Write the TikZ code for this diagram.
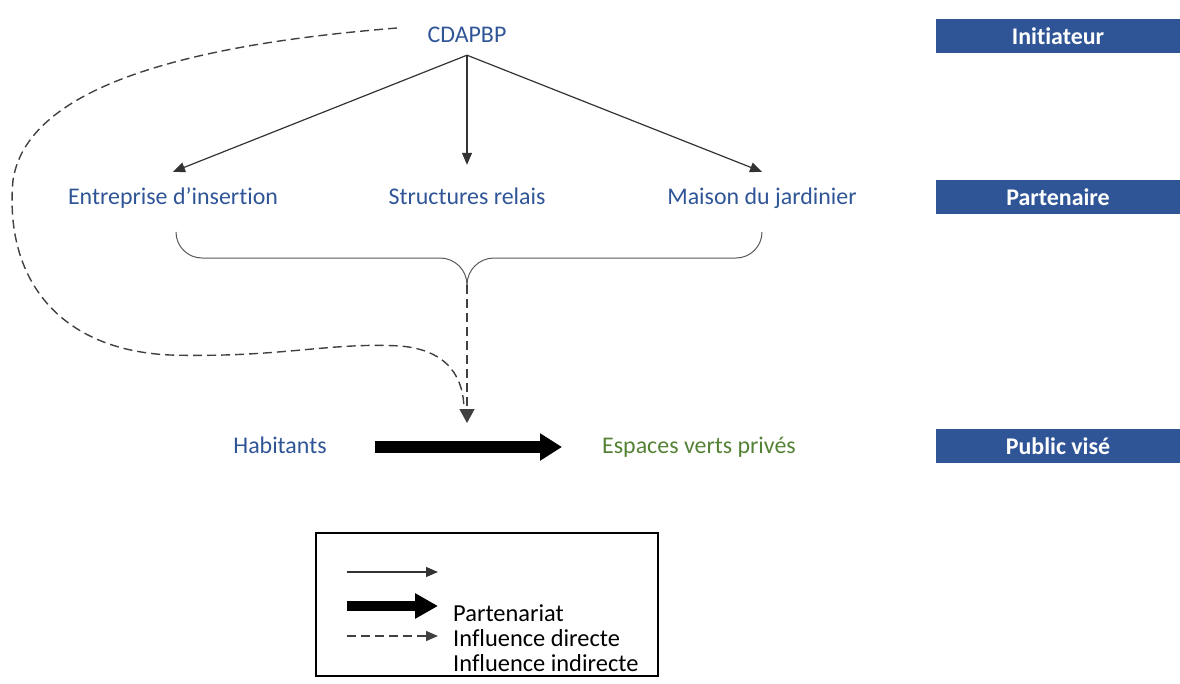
\documentclass[tikz,border=0pt]{standalone}
\usepackage{fontspec}
\setmainfont{Carlito}[RawFeature={-liga;-clig;-calt;-dlig}]
\usetikzlibrary{arrows.meta}
\definecolor{bleu}{HTML}{2F5597}
\definecolor{vert}{HTML}{548235}
\definecolor{bandeau}{HTML}{2F5597}
\tikzset{
    acteur/.style={text=bleu, font=\fontsize{24}{28}\selectfont,
        text height=17bp, text depth=5bp, inner sep=3bp},
    niveau/.style={fill=bandeau, text=white, font=\fontsize{24}{28}\selectfont\bfseries,
        minimum width=244bp, minimum height=34bp, inner sep=0pt},
    fleche/.style={draw=black!80, line width=1.2bp, -{Triangle[length=12bp,width=10bp]}},
    pointille/.style={draw=black!75, line width=1.4bp, dash pattern=on 9bp off 5bp},
    grosse/.style={draw=black, line width=12bp, -{Triangle[length=22bp,width=26bp]}},
    accolade/.style={draw=black!65, line width=1bp}
}
\begin{document}
\begin{tikzpicture}[x=1bp, y=-1bp]
    \useasboundingbox (0, 0) rectangle (1180, 684);
    % acteurs
    \node[acteur] (cd) at (467, 37) {CDAPBP};
    \node[acteur] (ent) at (173, 199) {Entreprise d’insertion};
    \node[acteur] (str) at (467, 199) {Structures relais};
    \node[acteur] (mai) at (762, 199) {Maison du jardinier};
    \node[acteur] (hab) at (280, 447) {Habitants};
    \node[acteur, text=vert] (esp) at (699, 447) {Espaces verts privés};
    % bandeaux
    \node[niveau] (ini) at (1058, 36.5) {Initiateur};
    \node[niveau] (par) at (1058, 197) {Partenaire};
    \node[niveau] (pub) at (1058, 446) {Public visé};
    % fleches
    \draw[fleche] ([yshift=-4bp]cd.south) -- ([yshift=13bp]ent.north);
    \draw[fleche] ([yshift=-4bp]cd.south) -- ([yshift=20bp]str.north);
    \draw[fleche] ([yshift=-4bp]cd.south) -- ([yshift=13bp]mai.north);
    % accolade
    \coordinate (pointe) at (467, 285);
    \draw[accolade] (176, 232) to[out=-90, in=180] (202, 258) -- (440, 258)
        to[out=0, in=90] (pointe);
    \draw[accolade] (762, 232) to[out=-90, in=0] (736, 258) -- (494, 258)
        to[out=180, in=90] (pointe);
    \coordinate (cible) at (467, 423);
    \draw[pointille, -{Triangle[length=14bp,width=15bp]}] (pointe) -- (cible);
    \coordinate (depart) at (397, 28);
    \draw[pointille] (depart) .. controls (250, 40) and (30, 70) .. (13, 180)
        .. controls (4, 280) and (60, 350) .. (170, 355)
        .. controls (280, 358) and (330, 342) .. (400, 346)
        .. controls (450, 350) and (464, 380) .. (464, 410);
    \draw[grosse] ([xshift=45bp]hab.east) -- ([xshift=-37bp]esp.west);
    % legende
    \node[draw, line width=1.5bp, minimum width=342bp, minimum height=143bp] (leg) at (487, 604.5) {};
    \coordinate (a1) at (347, 572);
    \coordinate (b1) at (438, 572);
    \coordinate (a2) at (347, 606);
    \coordinate (b2) at (438, 606);
    \coordinate (a3) at (347, 636);
    \coordinate (b3) at (438, 636);
    \draw[fleche] (a1) -- (b1);
    \draw[grosse, line width=10bp, -{Triangle[length=23bp,width=24bp]}] (a2) -- (b2);
    \draw[pointille, -{Triangle[length=12bp,width=10bp]}] (a3) -- (b3);
    \node[anchor=north west, inner sep=0pt, align=left, font=\fontsize{24.5}{25}\selectfont] (txt) at (453, 605)
        {Partenariat\\Influence directe\\Influence indirecte};
\end{tikzpicture}
\end{document}
